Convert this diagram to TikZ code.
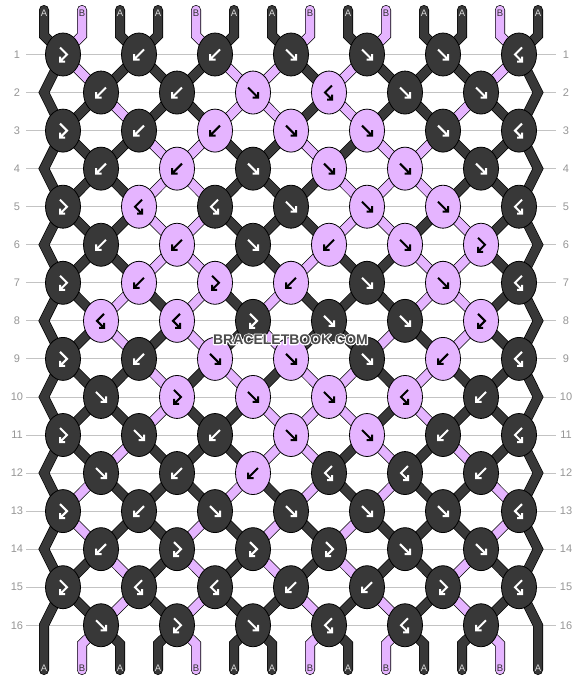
\documentclass[tikz,border=0pt]{standalone}
\usepackage{fontspec}
\setmainfont{Liberation Sans}
\usetikzlibrary{shapes.geometric}

\definecolor{dk}{RGB}{56,56,56}
\definecolor{lt}{RGB}{229,180,255}
\definecolor{rulegrey}{RGB}{195,195,195}
\definecolor{numgrey}{RGB}{150,150,150}
\definecolor{wmgrey}{RGB}{75,75,75}

\pgfdeclarelayer{grid}
\pgfdeclarelayer{threads}
\pgfsetlayers{grid,threads,main}

\def\fillA{dk}\def\fillB{lt}
\def\inkA{white}\def\inkB{black}
\def\tagA{white!85!black}\def\tagB{black!80}
\def\pickf{\posl}\def\pickfb{\posl}\def\pickb{\posr}\def\pickbf{\posr}
\def\swapf{1}\def\swapb{1}\def\swapfb{0}\def\swapbf{0}
\def\glyphf{(-5,-5) -- (5,5) (5,-0.5) -- (5,5) -- (-0.5,5)}
\def\glyphb{(5,-5) -- (-5,5) (-5,-0.5) -- (-5,5) -- (0.5,5)}
\def\glyphfb{(-3,-7) -- (4,0) -- (-3,7) (-3,2) -- (-3,7) -- (2,7)}
\def\glyphbf{(3,-7) -- (-4,0) -- (3,7) (3,2) -- (3,7) -- (-2,7)}
\newcommand\haloed[1]{\rlap{\special{pdf:literal direct 1 Tr 2.2 w 1 j 1 1 1 RG}#1\special{pdf:literal direct 0 Tr}}#1}

\begin{document}
\begin{tikzpicture}[x=1pt,y=-1pt,
  knot/.style={ellipse,draw=black,line width=0.8pt,minimum width=35pt,minimum height=43pt,inner sep=0pt},
  strand/.style={draw=black,line width=0.7pt,double distance=8.6pt,line cap=round},
  glyph/.style={line width=2pt},
  tag/.style={font=\fontsize{9.5}{10}\selectfont,inner sep=0pt},
  rownum/.style={font=\fontsize{11}{11}\selectfont,text=numgrey,inner sep=0pt},
  wm/.style={font=\fontsize{14}{14}\selectfont\bfseries,inner sep=0pt}]

\begin{pgfonlayer}{grid}
\fill[white] (0,0) rectangle (582,680);
\end{pgfonlayer}
\useasboundingbox (0,0) rectangle (582,680);

\foreach \r in {1,...,16} {
  \pgfmathsetmacro\y{54.5+38.05*(\r-1)}
  \node[rownum] (ln\r) at (17,\y) {\r};
  \node[rownum] (rn\r) at (566,\y) {\r};
  \begin{pgfonlayer}{grid}
  \draw[rulegrey,line width=0.9pt] (26,\y) -- (556,\y);
  \end{pgfonlayer}
}

% threads at the top
\foreach \col [count=\p] in {A,B,A,A,B,A,A,B,A,B,A,A,B,A} {
  \pgfmathsetmacro\x{44+38*(\p-1)}
  \expandafter\xdef\csname s\p\endcsname{\col}
  \edef\tc{\csname tag\col\endcsname}
  \coordinate (t\p) at (\x,10);
  \coordinate (tm\p) at (\x,35.5);
  \coordinate (bm\p) at (\x,644);
  \coordinate (b\p) at (\x,670);
  \node[tag,text=\tc] (top\p) at (\x,13) {\col};
}

% knots, row by row
\foreach \knots [count=\r] in {{fb,b,b,f,f,f,bf},{b,b,f,bf,f,f},{fb,b,b,f,f,f,bf},{b,b,f,f,f,f},
    {fb,bf,bf,f,f,f,bf},{b,b,f,b,f,fb},{fb,b,fb,b,f,f,bf},{bf,bf,fb,f,f,fb},
    {fb,b,f,f,f,b,bf},{f,fb,f,f,bf,b},{fb,f,b,f,f,b,bf},{f,b,b,bf,bf,b},
    {fb,b,f,f,f,f,bf},{b,fb,fb,fb,f,f},{fb,bf,bf,b,b,fb,bf},{f,fb,f,bf,bf,b}} {
  \pgfmathsetmacro\y{54.5+38.05*(\r-1)}
  \pgfmathtruncatemacro\odd{mod(\r,2)}
  \ifnum\odd=0
    \coordinate (k\r-0) at (44,\y);
    \coordinate (k\r-7) at (538,\y);
  \fi
  \foreach \kt [count=\k] in \knots {
    \pgfmathtruncatemacro\posl{\odd==1 ? 2*\k-1 : 2*\k}
    \pgfmathtruncatemacro\posr{\posl+1}
    \pgfmathsetmacro\x{\odd==1 ? 76*\k-13 : 25+76*\k}
    \edef\kc{\csname s\csname pick\kt\endcsname\endcsname}
    \edef\fc{\csname fill\kc\endcsname}
    \edef\ic{\csname ink\kc\endcsname}
    \node[knot,fill=\fc] (k\r-\k) at (\x,\y) {};
    \draw[glyph,draw=\ic,shift={(\x,\y)}] \csname glyph\kt\endcsname;
  }
  \foreach \p in {2,...,13} {
    \edef\fc{\csname fill\csname s\p\endcsname\endcsname}
    \pgfmathtruncatemacro\kp{\odd==1 ? (\p+1)/2 : \p/2}
    \pgfmathtruncatemacro\q{\r-1}
    \pgfmathtruncatemacro\kq{\odd==1 ? \p/2 : (\p+1)/2}
    \begin{pgfonlayer}{threads}
    \ifnum\r=1
      \draw[strand,double=\fc] (t\p) -- (tm\p) -- (k1-\kp.center);
    \else
      \draw[strand,double=\fc] (k\q-\kq.center) -- (k\r-\kp.center);
    \fi
    \end{pgfonlayer}
  }
  \foreach \kt [count=\k] in \knots {
    \ifnum\csname swap\kt\endcsname=1
      \pgfmathtruncatemacro\posl{\odd==1 ? 2*\k-1 : 2*\k}
      \pgfmathtruncatemacro\posr{\posl+1}
      \edef\ta{\csname s\posl\endcsname}\edef\tb{\csname s\posr\endcsname}
      \expandafter\xdef\csname s\posl\endcsname{\tb}
      \expandafter\xdef\csname s\posr\endcsname{\ta}
    \fi
  }
}

% threads at the bottom
\foreach \p in {2,...,13} {
  \edef\fc{\csname fill\csname s\p\endcsname\endcsname}
  \pgfmathtruncatemacro\kp{\p/2}
  \begin{pgfonlayer}{threads}
  \draw[strand,double=\fc] (k16-\kp.center) -- (bm\p) -- (b\p);
  \end{pgfonlayer}
}
\foreach \p in {1,...,14} {
  \pgfmathsetmacro\x{44+38*(\p-1)}
  \edef\col{\csname s\p\endcsname}
  \edef\tc{\csname tag\col\endcsname}
  \node[tag,text=\tc] (bot\p) at (\x,668) {\col};
}

\begin{pgfonlayer}{threads}
\draw[strand,double=dk] (t1) -- (tm1)
  \foreach \r [evaluate=\r as \e using {int(mod(\r,2))}] in {1,...,16} { -- (k\r-\e.center) } -- (b1);
\draw[strand,double=dk] (t14) -- (tm14)
  \foreach \r in {1,...,16} { -- (k\r-7.center) } -- (b14);
\end{pgfonlayer}

\node[wm,text=wmgrey] (wm) at (290.5,339.5) {\haloed{BRACELETBOOK.COM}};
\end{tikzpicture}
\end{document}
